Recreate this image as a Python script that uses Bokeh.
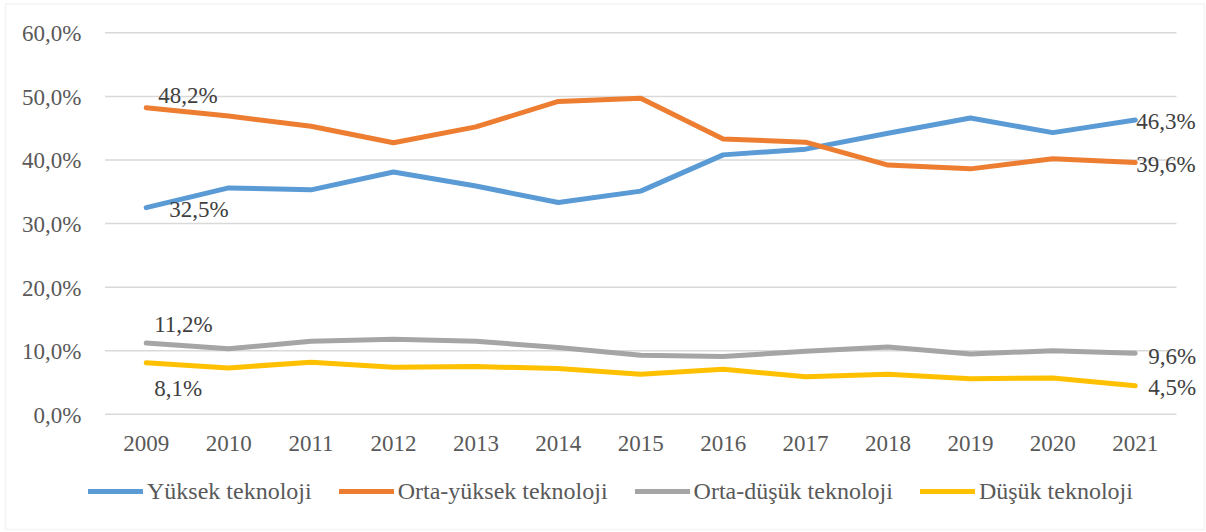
from bokeh.plotting import figure
from bokeh.models import Legend, LegendItem, ColumnDataSource, Range1d, BoxAnnotation
from bokeh.core.properties import value
from bokeh.embed import file_html
from bokeh.resources import INLINE

years = [2009, 2010, 2011, 2012, 2013, 2014, 2015, 2016, 2017, 2018, 2019, 2020, 2021]
yuksek = [32.5, 35.6, 35.3, 38.1, 35.9, 33.3, 35.1, 40.8, 41.7, 44.2, 46.6, 44.3, 46.3]
orta_yuksek = [48.2, 46.9, 45.3, 42.7, 45.2, 49.2, 49.7, 43.3, 42.8, 39.2, 38.6, 40.2, 39.6]
orta_dusuk = [11.2, 10.3, 11.5, 11.8, 11.5, 10.5, 9.3, 9.1, 9.9, 10.6, 9.5, 10.0, 9.6]
dusuk = [8.1, 7.3, 8.2, 7.4, 7.5, 7.2, 6.3, 7.1, 5.9, 6.3, 5.6, 5.7, 4.5]
series_names = ["Yüksek teknoloji", "Orta-yüksek teknoloji", "Orta-düşük teknoloji", "Düşük teknoloji"]
y_ticks = [0, 10, 20, 30, 40, 50, 60]

colors = ["#5B9BD5", "#ED7D31", "#A5A5A5", "#FFC000"]
FONT = "Liberation Serif"
FS = "23px"

def fmt(v):
    return f"{v:.1f}".replace(".", ",") + "%"

# layout (pixels) - the frame covers the whole canvas
W, H = 1206, 532
band_left_px = 104.5     # where the category band starts
px_per_year = 82.42
top_px, zero_px = 32.3, 413.8
x0, x1 = years[0] - 0.5, years[-1] + 0.5
xs = x0 - band_left_px / px_per_year
xe = xs + W / px_per_year
ppu = (zero_px - top_px) / 60.0
ye = 60 + top_px / ppu
ys = -(H - zero_px) / ppu

def px_to_x(px):
    return xs + px / px_per_year

def py_to_y(py):
    return ye - py / ppu

p = figure(width=W, height=H, output_backend="svg", toolbar_location=None,
           x_range=Range1d(xs, xe), y_range=Range1d(ys, ye),
           min_border=0, min_border_left=0, min_border_right=0,
           min_border_top=0, min_border_bottom=0)
p.outline_line_color = None
p.xaxis.visible = False
p.yaxis.visible = False
p.xgrid.grid_line_color = None
p.ygrid.grid_line_color = None

# chart border
p.add_layout(BoxAnnotation(left=px_to_x(5), right=px_to_x(1204), top=py_to_y(3.5), bottom=py_to_y(529),
                           fill_alpha=0, line_color="#D9D9D9", line_width=1.5))

# horizontal gridlines over the category band
p.segment(x0=[x0] * len(y_ticks), x1=[x1] * len(y_ticks), y0=y_ticks, y1=y_ticks,
          line_color="#D9D9D9", line_width=1.5)

# value axis labels
p.text(x=[x0] * len(y_ticks), y=y_ticks, text=[fmt(t) for t in y_ticks], x_offset=-23.5, y_offset=1,
       text_font=value(FONT), text_font_size=FS, text_color="#595959",
       text_align="right", text_baseline="middle")

# category labels under the 0 % line
p.text(x=years, y=[0] * len(years), text=[str(y) for y in years], y_offset=29,
       text_font=value(FONT), text_font_size=FS, text_color="#595959",
       text_align="center", text_baseline="middle")

all_series = [yuksek, orta_yuksek, orta_dusuk, dusuk]
items = []
for name, vals, c in zip(series_names, all_series, colors):
    r = p.line(years, vals, line_color=c, line_width=5, line_cap="round", line_join="round")
    items.append(LegendItem(label=name, renderers=[r]))

# data labels at first and last points (screen offsets in px)
label_offsets = [
    [(23, 2), (1, 2)],
    [(12, -12), (1, 2)],
    [(8, -19), (13, 3)],
    [(8, 26), (13, 2)],
]
lx, ly, lt, ox, oy = [], [], [], [], []
for vals, offs in zip(all_series, label_offsets):
    for idx, (dx, dy) in zip([0, len(years) - 1], offs):
        lx.append(years[idx]); ly.append(vals[idx]); lt.append(fmt(vals[idx]))
        ox.append(dx); oy.append(dy)
src = ColumnDataSource(dict(x=lx, y=ly, t=lt, ox=ox, oy=oy))
p.text(x="x", y="y", text="t", x_offset="ox", y_offset="oy", source=src,
       text_font=value(FONT), text_font_size=FS, text_color="#404040",
       text_align="left", text_baseline="middle")

legend = Legend(items=items, orientation="horizontal", location=(88, 27),
                glyph_width=55, glyph_height=28, label_height=28, label_standoff=4, spacing=27,
                padding=0, margin=0, border_line_color=None, background_fill_alpha=0,
                label_text_font=FONT, label_text_font_size="24px", label_text_color="#595959")
p.add_layout(legend, "center")

open("out.html", "w").write(file_html(p, INLINE))
